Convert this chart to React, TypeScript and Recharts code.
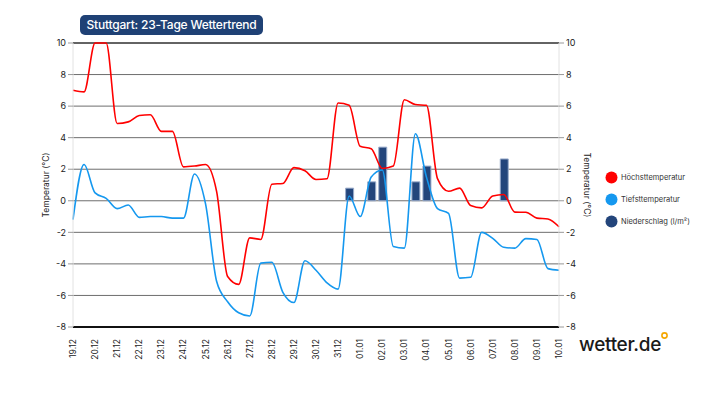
import {
  ComposedChart,
  Line,
  Bar,
  XAxis,
  YAxis,
  CartesianGrid,
  Legend,
  ReferenceLine,
} from "recharts";

// 19.12. bis 10.01., Werte jeweils im Halbtagesraster
const dayLabels = [
  "19.12", "20.12", "21.12", "22.12", "23.12", "24.12", "25.12", "26.12",
  "27.12", "28.12", "29.12", "30.12", "31.12", "01.01", "02.01", "03.01",
  "04.01", "05.01", "06.01", "07.01", "08.01", "09.01", "10.01",
];

const maxTemp = [
  7.0, 6.9, 10.0, 10.0, 4.9, 5.0, 5.4, 5.45, 4.4, 4.4, 2.15, 2.2, 2.3, 0.6,
  -4.8, -5.3, -2.35, -2.45, 1.05, 1.1, 2.1, 1.9, 1.35, 1.4, 6.2, 6.05, 3.45,
  3.3, 2.05, 2.2, 6.4, 6.1, 6.05, 1.4, 0.6, 0.8, -0.3, -0.45, 0.3, 0.4, -0.72,
  -0.73, -1.1, -1.15, -1.65,
];

const minTemp = [
  -1.2, 2.3, 0.5, 0.15, -0.5, -0.27, -1.05, -1.0, -1.0, -1.1, -1.1, 1.7, -0.2,
  -5.1, -6.4, -7.1, -7.3, -3.95, -3.9, -5.8, -6.45, -3.8, -4.4, -5.2, -5.6,
  0.3, -1.0, 1.5, 1.95, -2.9, -3.0, 4.25, 1.5, -0.5, -0.8, -4.9, -4.85, -2.0,
  -2.38, -2.95, -3.0, -2.4, -2.45, -4.3, -4.4,
];

const rainAt = [12.5, 13.5, 14, 15.5, 16, 19.5];
const rain = [0.8, 1.2, 3.4, 1.2, 2.2, 2.65];

const tempTicks = [-8, -6, -4, -2, 0, 2, 4, 6, 8, 10];

const rows = maxTemp.map((hi, i) => {
  const t = i / 2;
  const r = rainAt.indexOf(t);
  return {
    t,
    hi,
    lo: minTemp[i],
    rain: r >= 0 ? rain[r] : null,
  };
});

const dayTicks = dayLabels.map((_, i) => i);

const FONT = "Inter, 'Noto Sans', sans-serif";

function DateTick({ x, y, payload }: any) {
  return (
    <text
      transform={`translate(${x},${y + 4}) rotate(-90)`}
      textAnchor="end"
      dy="0.35em"
      fontSize={8.5}
      fill="#222"
      fontFamily={FONT}
    >
      {dayLabels[payload.value]}
    </text>
  );
}

const legendOrder = ["Höchsttemperatur", "Tiefsttemperatur", "Niederschlag (l/m²)"];

function LegendBox({ payload }: any) {
  const items = [...(payload || [])].sort(
    (a: any, b: any) => legendOrder.indexOf(a.value) - legendOrder.indexOf(b.value)
  );
  return (
    <div style={{ fontFamily: FONT }}>
      {items.map((it: any) => (
        <div
          key={it.value}
          style={{ display: "flex", alignItems: "center", height: 22 }}
        >
          <svg width={13} height={13} style={{ marginRight: 3 }}>
            <circle cx={6.5} cy={6.5} r={6} fill={it.color} />
          </svg>
          <span style={{ fontSize: 7.5, color: "#333" }}>{it.value}</span>
        </div>
      ))}
    </div>
  );
}

export default function App() {
  return (
    <div
      style={{
        position: "absolute",
        left: 0,
        top: 0,
        width: 717,
        height: 403,
        background: "#fff",
        fontFamily: FONT,
      }}
    >
      <ComposedChart
        width={717}
        height={403}
        data={rows}
        margin={{ top: 43, right: 108, bottom: 46, left: 23 }}
      >
        <CartesianGrid vertical={false} stroke="#6e6e6e" yAxisId="left" />
        <XAxis
          dataKey="t"
          type="number"
          domain={[0, 22]}
          ticks={dayTicks}
          interval={0}
          tick={<DateTick />}
          tickLine={false}
          axisLine={{ stroke: "#111", strokeWidth: 2 }}
          height={30}
        />
        <YAxis
          yAxisId="left"
          width={50}
          domain={[-8, 10]}
          ticks={tempTicks}
          interval={0}
          tickSize={5}
          tickLine={{ stroke: "#999" }}
          axisLine={{ stroke: "#e2e2e2" }}
          tick={{ fontSize: 9, fill: "#222", fontFamily: FONT }}
          label={{
            value: "Temperatur (°C)",
            angle: -90,
            position: "center",
            dx: -2,
            style: { fontSize: 8.5, fill: "#222", fontFamily: FONT },
          }}
        />
        <YAxis
          yAxisId="right"
          orientation="right"
          width={50}
          domain={[-8, 10]}
          ticks={tempTicks}
          interval={0}
          tickSize={5}
          tickLine={{ stroke: "#999" }}
          axisLine={{ stroke: "#e2e2e2" }}
          tick={{ fontSize: 9, fill: "#222", fontFamily: FONT }}
          label={{
            value: "Temperatur (°C)",
            angle: 90,
            position: "center",
            dx: 3,
            style: { fontSize: 8.5, fill: "#222", fontFamily: FONT },
          }}
        />
        <ReferenceLine yAxisId="left" y={10} stroke="#111" />
        <Bar
          yAxisId="right"
          dataKey="rain"
          name="Niederschlag (l/m²)"
          fill="#23457b"
          stroke="#9aaccb"
          strokeWidth={1}
          barSize={8}
          isAnimationActive={false}
        />
        <Line
          yAxisId="left"
          type="monotone"
          dataKey="hi"
          name="Höchsttemperatur"
          stroke="#ff0000"
          strokeWidth={1.6}
          dot={false}
          activeDot={false}
          isAnimationActive={false}
        />
        <Line
          yAxisId="left"
          type="monotone"
          dataKey="lo"
          name="Tiefsttemperatur"
          stroke="#1598ef"
          strokeWidth={1.6}
          dot={false}
          activeDot={false}
          isAnimationActive={false}
        />
        <Legend
          layout="vertical"
          align="center"
          verticalAlign="middle"
          content={<LegendBox />}
          wrapperStyle={{ left: 605, top: 166, width: 110 }}
        />
      </ComposedChart>

      <div
        style={{
          position: "absolute",
          left: 80,
          top: 15,
          width: 183,
          height: 20,
          borderRadius: 5,
          background: "#1f4175",
          color: "#fff",
          fontSize: 12,
          fontWeight: 500,
          lineHeight: "20px",
          textAlign: "center",
          letterSpacing: -0.2,
        }}
      >
        Stuttgart: 23-Tage Wettertrend
      </div>

      <div
        style={{
          position: "absolute",
          left: 579,
          top: 334,
          fontSize: 19,
          fontWeight: 500,
          color: "#1a1a1a",
          letterSpacing: -0.3,
          lineHeight: "22px",
        }}
      >
        wetter.de
      </div>
      <svg
        style={{ position: "absolute", left: 660, top: 331 }}
        width={9}
        height={9}
      >
        <circle cx={4.5} cy={4.5} r={2.6} fill="none" stroke="#f5a700" strokeWidth={1.6} />
      </svg>
    </div>
  );
}
